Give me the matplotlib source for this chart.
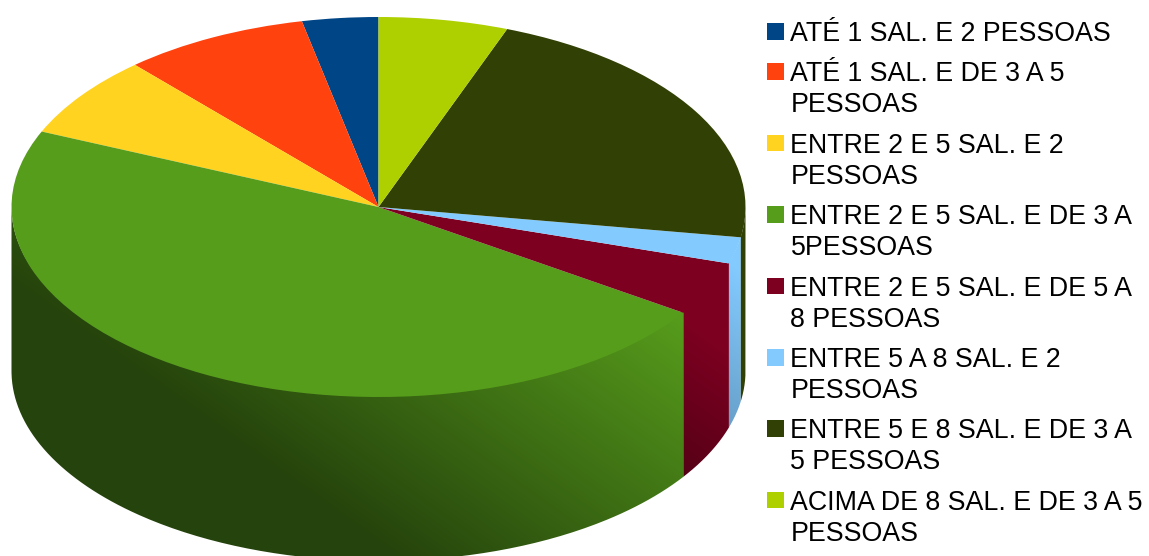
import numpy as np
import matplotlib
matplotlib.use('Agg')
import matplotlib.pyplot as plt
from matplotlib.patches import PathPatch, Rectangle
from matplotlib.path import Path
from matplotlib.colors import to_rgb

labels = ['ATÉ 1 SAL. E 2 PESSOAS',
          'ATÉ 1 SAL. E DE 3 A 5\nPESSOAS',
          'ENTRE 2 E 5 SAL. E 2\nPESSOAS',
          'ENTRE 2 E 5 SAL. E DE 3 A\n5PESSOAS',
          'ENTRE 2 E 5 SAL. E DE 5 A\n8 PESSOAS',
          'ENTRE 5 A 8 SAL. E 2\nPESSOAS',
          'ENTRE 5 E 8 SAL. E DE 3 A\n5 PESSOAS',
          'ACIMA DE 8 SAL. E DE 3 A 5\nPESSOAS']
values = [3.35, 8.2, 6.95, 47.1, 4.6, 2.25, 21.85, 5.7]
colors = ['#004586', '#ff420e', '#ffd320', '#579d1c',
          '#7e0021', '#83caff', '#314004', '#aecf00']

W, H = 1149, 556
CX, CY = 378.5, 207.0   # centre of the top face, pixels
RX, RY = 367.0, 190.0
DEPTH = 164.0

plt.rcParams['font.family'] = ['Liberation Sans', 'DejaVu Sans']
fig = plt.figure(figsize=(W/100, H/100), dpi=100)

# pie axes: a circle of radius RX squashed to RY by the y limits
squash = RY/RX
pie_ax = fig.add_axes([0, 0, 1, 1])
pie_ax.pie(values, colors=colors, startangle=90, counterclock=True,
           radius=RX, center=(0, 0), wedgeprops={'linewidth': 0})
pie_ax.set_aspect('auto')
pie_ax.axis('off')
depth = DEPTH/squash
limits = (-CX, W-CX, (CY-H)/squash, CY/squash)


def wall_shade(t0, t1, dark, color):
    # diagonal gradient, dark to the lower left and lit to the upper right
    xx, yy = np.meshgrid(np.arange(W)+0.5, np.arange(H)+0.5)
    t = 0.58*xx - 0.81*yy
    f = np.clip((t-t0)/(t1-t0), 0, 1)
    k = dark + (1-dark)*f
    return k[..., None]*np.array(to_rgb(color))


def draw_wall(a0, a1, color, t0, t1, dark):
    th = np.radians(np.linspace(a0, a1, 200))
    x = RX*np.cos(th)
    y = RX*np.sin(th)
    # top edge lifted a little, under the wedges, to hide the seam at the rim
    xs = np.r_[x, x[::-1], x[0]]
    ys = np.r_[y*0.98, y[::-1]-depth, y[0]*0.98]
    clip = PathPatch(Path(np.c_[xs, ys]), transform=pie_ax.transData,
                     facecolor='none', edgecolor='none')
    pie_ax.add_patch(clip)
    im = pie_ax.imshow(wall_shade(t0, t1, dark, color), aspect='auto',
                       extent=limits, interpolation='nearest', zorder=0.5)
    im.set_clip_path(clip)


# side walls only exist on the front half of the cake
shades = {3: (-220, 142, 0.43), 4: (-88, 140, 0.43), 5: (-150, 209, 0.43),
          6: (-60, 170, 1.0)}
ends = 90 + np.cumsum(values)/np.sum(values)*360
starts = np.r_[90, ends[:-1]]
for i in shades:
    a0 = max(starts[i], 180)
    a1 = min(ends[i], 360)
    draw_wall(a0, a1, colors[i], *shades[i])
pie_ax.set_xlim(limits[0], limits[1])
pie_ax.set_ylim(limits[2], limits[3])

# legend, written in pixel coordinates
leg_ax = fig.add_axes([0, 0, 1, 1])
leg_ax.set_xlim(0, W)
leg_ax.set_ylim(H, 0)
leg_ax.axis('off')
y = 41.0
for lab, col in zip(labels, colors):
    leg_ax.add_patch(Rectangle((767, y-18), 16.5, 16.5, facecolor=col, edgecolor='none'))
    for j, line in enumerate(lab.split('\n')):
        leg_ax.text(790.5, y+j*31, line, fontsize=19.3, color='black', va='baseline', ha='left')
    y += 31*lab.count('\n') + 40.4

fig.savefig('out.png', dpi=100)
